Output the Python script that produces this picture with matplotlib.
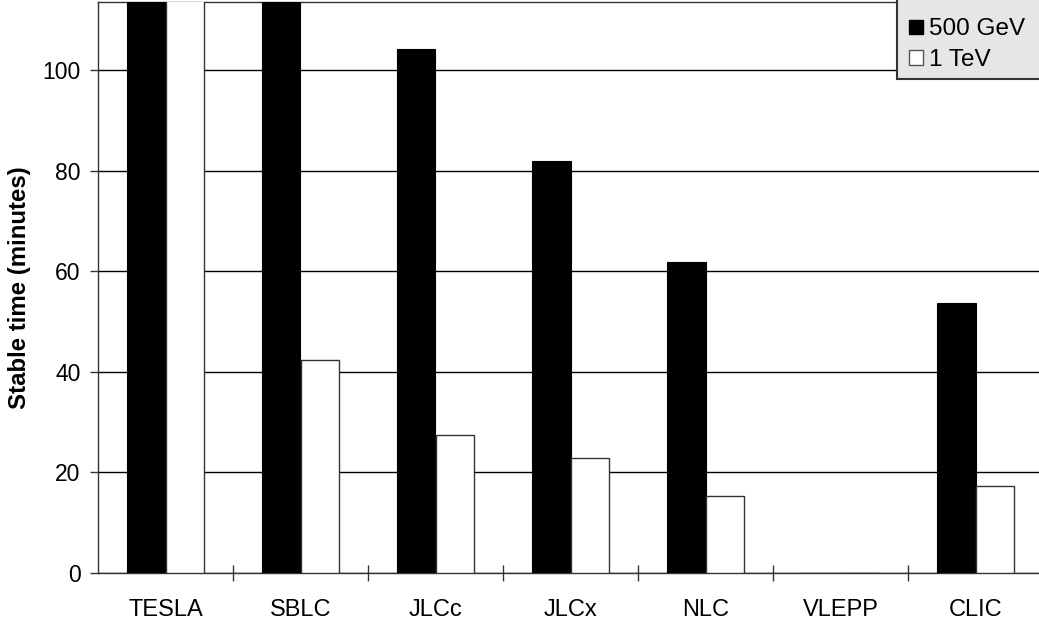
import numpy as np
import matplotlib
matplotlib.use("Agg")
import matplotlib.pyplot as plt
from matplotlib.patches import Patch, Rectangle

plt.rcParams['font.family'] = ['Liberation Sans', 'DejaVu Sans']

# data (TESLA bars and SBLC 500 GeV run off the top)
machines = ['TESLA', 'SBLC', 'JLCc', 'JLCx', 'NLC', 'VLEPP', 'CLIC']
gev500 = [130, 130, 104.2, 81.9, 61.9, 0, 53.6]
tev1 = [130, 42.3, 27.4, 22.8, 15.3, 0, 17.2]
yticks = [0, 20, 40, 60, 80, 100]

W, H = 1039, 626
fig = plt.figure(figsize=(W/100, H/100), dpi=100)
ax = fig.add_axes([98/W, 53/H, 945/W, 571/H])

x = np.arange(len(machines))
w = 0.285
ax.bar(x - w/2, gev500, w, color='black', edgecolor='black', linewidth=0.8, zorder=3)
ax.bar(x + w/2, tev1, w, color='white', edgecolor='#333333', linewidth=1.0, zorder=3)

ax.set_xlim(-0.5, len(machines) - 0.5)
ax.set_ylim(0, 113.5)
ax.set_yticks(yticks)
ax.yaxis.grid(True, color='black', linewidth=1.0, zorder=0)
ax.set_axisbelow(True)

# category labels between boundary ticks
ax.set_xticks(x)
ax.set_xticklabels(machines, fontsize=17)
ax.tick_params(axis='x', length=0, pad=19)
ax.set_xticks(np.arange(0.5, len(machines) - 0.5), minor=True)
ax.tick_params(axis='x', which='minor', direction='inout', length=12, width=1, color='#333333')
ax.tick_params(axis='y', labelsize=16.5, length=6, width=1, color='#333333', pad=6.5)

for s in ax.spines.values():
    s.set_color('#333333')
    s.set_linewidth(1.0)

ax.set_ylabel('Stable time (minutes)', fontsize=17.3, fontweight='bold')
ax.yaxis.set_label_coords(-0.071, 0.5)

# legend box runs off the top right corner
fig.add_artist(Rectangle((897/W, 1 - 79/H), 200/W, 100/H, transform=fig.transFigure,
                         facecolor='#e6e6e6', edgecolor='#333333', linewidth=1.5, zorder=5))
handles = [Patch(facecolor='black', edgecolor='black', label='500 GeV'),
           Patch(facecolor='white', edgecolor='#555555', label='1 TeV')]
leg = fig.legend(handles=handles, loc='lower left', bbox_to_anchor=(901/W, 1 - 79/H),
                 fontsize=17.5, frameon=False,
                 handlelength=0.58, handleheight=0.55, handletextpad=0.25,
                 borderpad=0.33, labelspacing=0.35, borderaxespad=0)
leg.set_zorder(6)

fig.savefig('out.png', dpi=100)
